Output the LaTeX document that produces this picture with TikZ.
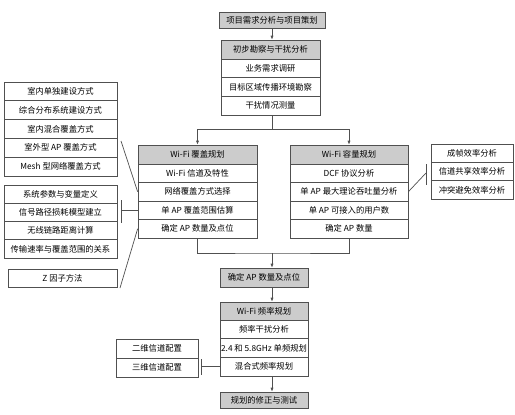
\documentclass[tikz,border=0pt]{standalone}
\usepackage{fontspec}
\setmainfont{Noto Sans CJK SC}
\usetikzlibrary{arrows.meta,calc}
\definecolor{lc}{HTML}{505050}
\definecolor{hd}{HTML}{CCCCCC}
\begin{document}
\begin{tikzpicture}[x=1pt,y=-1pt,
  font=\fontsize{8.3pt}{9pt}\selectfont,
  cell/.style={draw=lc,line width=0.7pt,inner sep=0pt,align=center,fill=white},
  head/.style={cell,fill=hd},
  tw/.style={head,minimum width=106pt,minimum height=16pt},
  bw/.style={cell,minimum width=99pt,minimum height=18.67pt},
  bwh/.style={head,minimum width=99pt,minimum height=19pt},
  cv/.style={cell,minimum width=119pt,minimum height=18.5pt},
  cvh/.style={head,minimum width=119pt,minimum height=19pt},
  cp/.style={cell,minimum width=118pt,minimum height=18.5pt},
  cph/.style={head,minimum width=118pt,minimum height=19pt},
  ap/.style={head,minimum width=88pt,minimum height=19pt},
  fq/.style={cell,minimum width=88pt,minimum height=18.67pt},
  fqh/.style={head,minimum width=88pt,minimum height=18pt},
  ls/.style={head,minimum width=88pt,minimum height=16pt},
  ga/.style={cell,minimum width=113pt,minimum height=18.8pt},
  gb/.style={cell,minimum width=113pt,minimum height=18.25pt},
  gz/.style={cell,minimum width=109pt,minimum height=18pt},
  gr/.style={cell,minimum width=82pt,minimum height=18.33pt},
  gl/.style={cell,minimum width=82pt,minimum height=19pt},
  ln/.style={draw=lc,line width=0.7pt},
  arr/.style={ln,-{Latex[length=4pt,width=3.2pt]}}]
\useasboundingbox (0,0) rectangle (515,415);
\fill[white] (0,0) rectangle (515,415);
% top
\node[tw] (t1) at (272,20) {项目需求分析与项目策划};
% survey
\node[bwh] (bh) at (270.5,49.5) {初步勘察与干扰分析};
\node[bw] (b1) at (270.5,68.33) {业务需求调研};
\node[bw] (b2) at (270.5,87) {目标区域传播环境勘察};
\node[bw] (b3) at (270.5,105.67) {干扰情况测量};
% coverage
\node[cvh] (ch) at (197.5,154.5) {Wi-Fi 覆盖规划};
\node[cv] (c1) at (197.5,173.25) {Wi-Fi 信道及特性};
\node[cv] (c2) at (197.5,191.75) {网络覆盖方式选择};
\node[cv] (c3) at (197.5,210.25) {单 AP 覆盖范围估算};
\node[cv] (c4) at (197.5,228.75) {确定 AP 数量及点位};
% capacity
\node[cph] (ph) at (349,154.5) {Wi-Fi 容量规划};
\node[cp] (p1) at (349,173.25) {DCF 协议分析};
\node[cp] (p2) at (349,191.75) {单 AP 最大理论吞吐量分析};
\node[cp] (p3) at (349,210.25) {单 AP 可接入的用户数};
\node[cp] (p4) at (349,228.75) {确定 AP 数量};
% AP
\node[ap] (apn) at (264,277.5) {确定 AP 数量及点位};
% frequency
\node[fqh] (fh) at (264,311) {Wi-Fi 频率规划};
\node[fq] (f1) at (264,329.33) {频率干扰分析};
\node[fq] (f2) at (264,348) {2.4 和 5.8GHz 单频规划};
\node[fq] (f3) at (264,366.67) {混合式频率规划};
\node[ls] (last) at (264,400) {规划的修正与测试};
% left group 1
\node[ga] (a1) at (60.5,91.4) {室内单独建设方式};
\node[ga] (a2) at (60.5,110.2) {综合分布系统建设方式};
\node[ga] (a3) at (60.5,129) {室内混合覆盖方式};
\node[ga] (a4) at (60.5,147.8) {室外型 AP 覆盖方式};
\node[ga] (a5) at (60.5,166.6) {Mesh 型网络覆盖方式};
% left group 2
\node[gb] (g1) at (60.5,194.125) {系统参数与变量定义};
\node[gb] (g2) at (60.5,212.375) {信号路径损耗模型建立};
\node[gb] (g3) at (60.5,230.625) {无线链路距离计算};
\node[gb] (g4) at (60.5,248.875) {传输速率与覆盖范围的关系};
\node[gz] (z) at (62.5,278) {Z 因子方法};
% right group
\node[gr] (r1) at (472,153.17) {成帧效率分析};
\node[gr] (r2) at (472,171.5) {信道共享效率分析};
\node[gr] (r3) at (472,189.83) {冲突避免效率分析};
% bottom left group
\node[gl] (l1) at (157,348.5) {二维信道配置};
\node[gl] (l2) at (157,367.5) {三维信道配置};
% spine coordinates
\coordinate (sp) at (272,0);
\coordinate (j1) at (272,129);
\coordinate (j2) at (272,253);
\draw[arr] (t1.south -| sp) -- (bh.north -| sp);
\draw[ln] (b3.south -| sp) -- (j1);
\draw[arr] (j1) -| (ch.north);
\draw[arr] (j1) -| (ph.north);
\draw[ln] (c4.south) |- (j2) -| (p4.south);
\draw[arr] (j2) -- (apn.north -| j2);
\draw[arr] (apn.south -| sp) -- (fh.north -| sp);
\draw[arr] (f3.south -| sp) -- (last.north -| sp);
% left connectors
\coordinate (e1) at (121,141);
\draw[ln] (e1) -- (c2.west);
\coordinate (k1) at (121,200);
\coordinate (k2) at (121,223);
\draw[ln] (k1) -- (k2);
\draw[ln] (c3.west) -- (c3.west -| k1);
\coordinate (e3) at (120,288);
\draw[ln] (e3) -- (c4.west);
% right connector
\coordinate (q1) at (426,164);
\coordinate (q2) at (426,185);
\coordinate (q3) at (426,173);
\draw[ln] (q1) -- (q2);
\draw[ln] (p2.east) -- (q3);
% bottom-left connector
\coordinate (m1) at (201,359);
\coordinate (m2) at (201,375);
\draw[ln] (m1) -- (m2);
\draw[ln] (f3.west) -- (f3.west -| m1);
\end{tikzpicture}
\end{document}
